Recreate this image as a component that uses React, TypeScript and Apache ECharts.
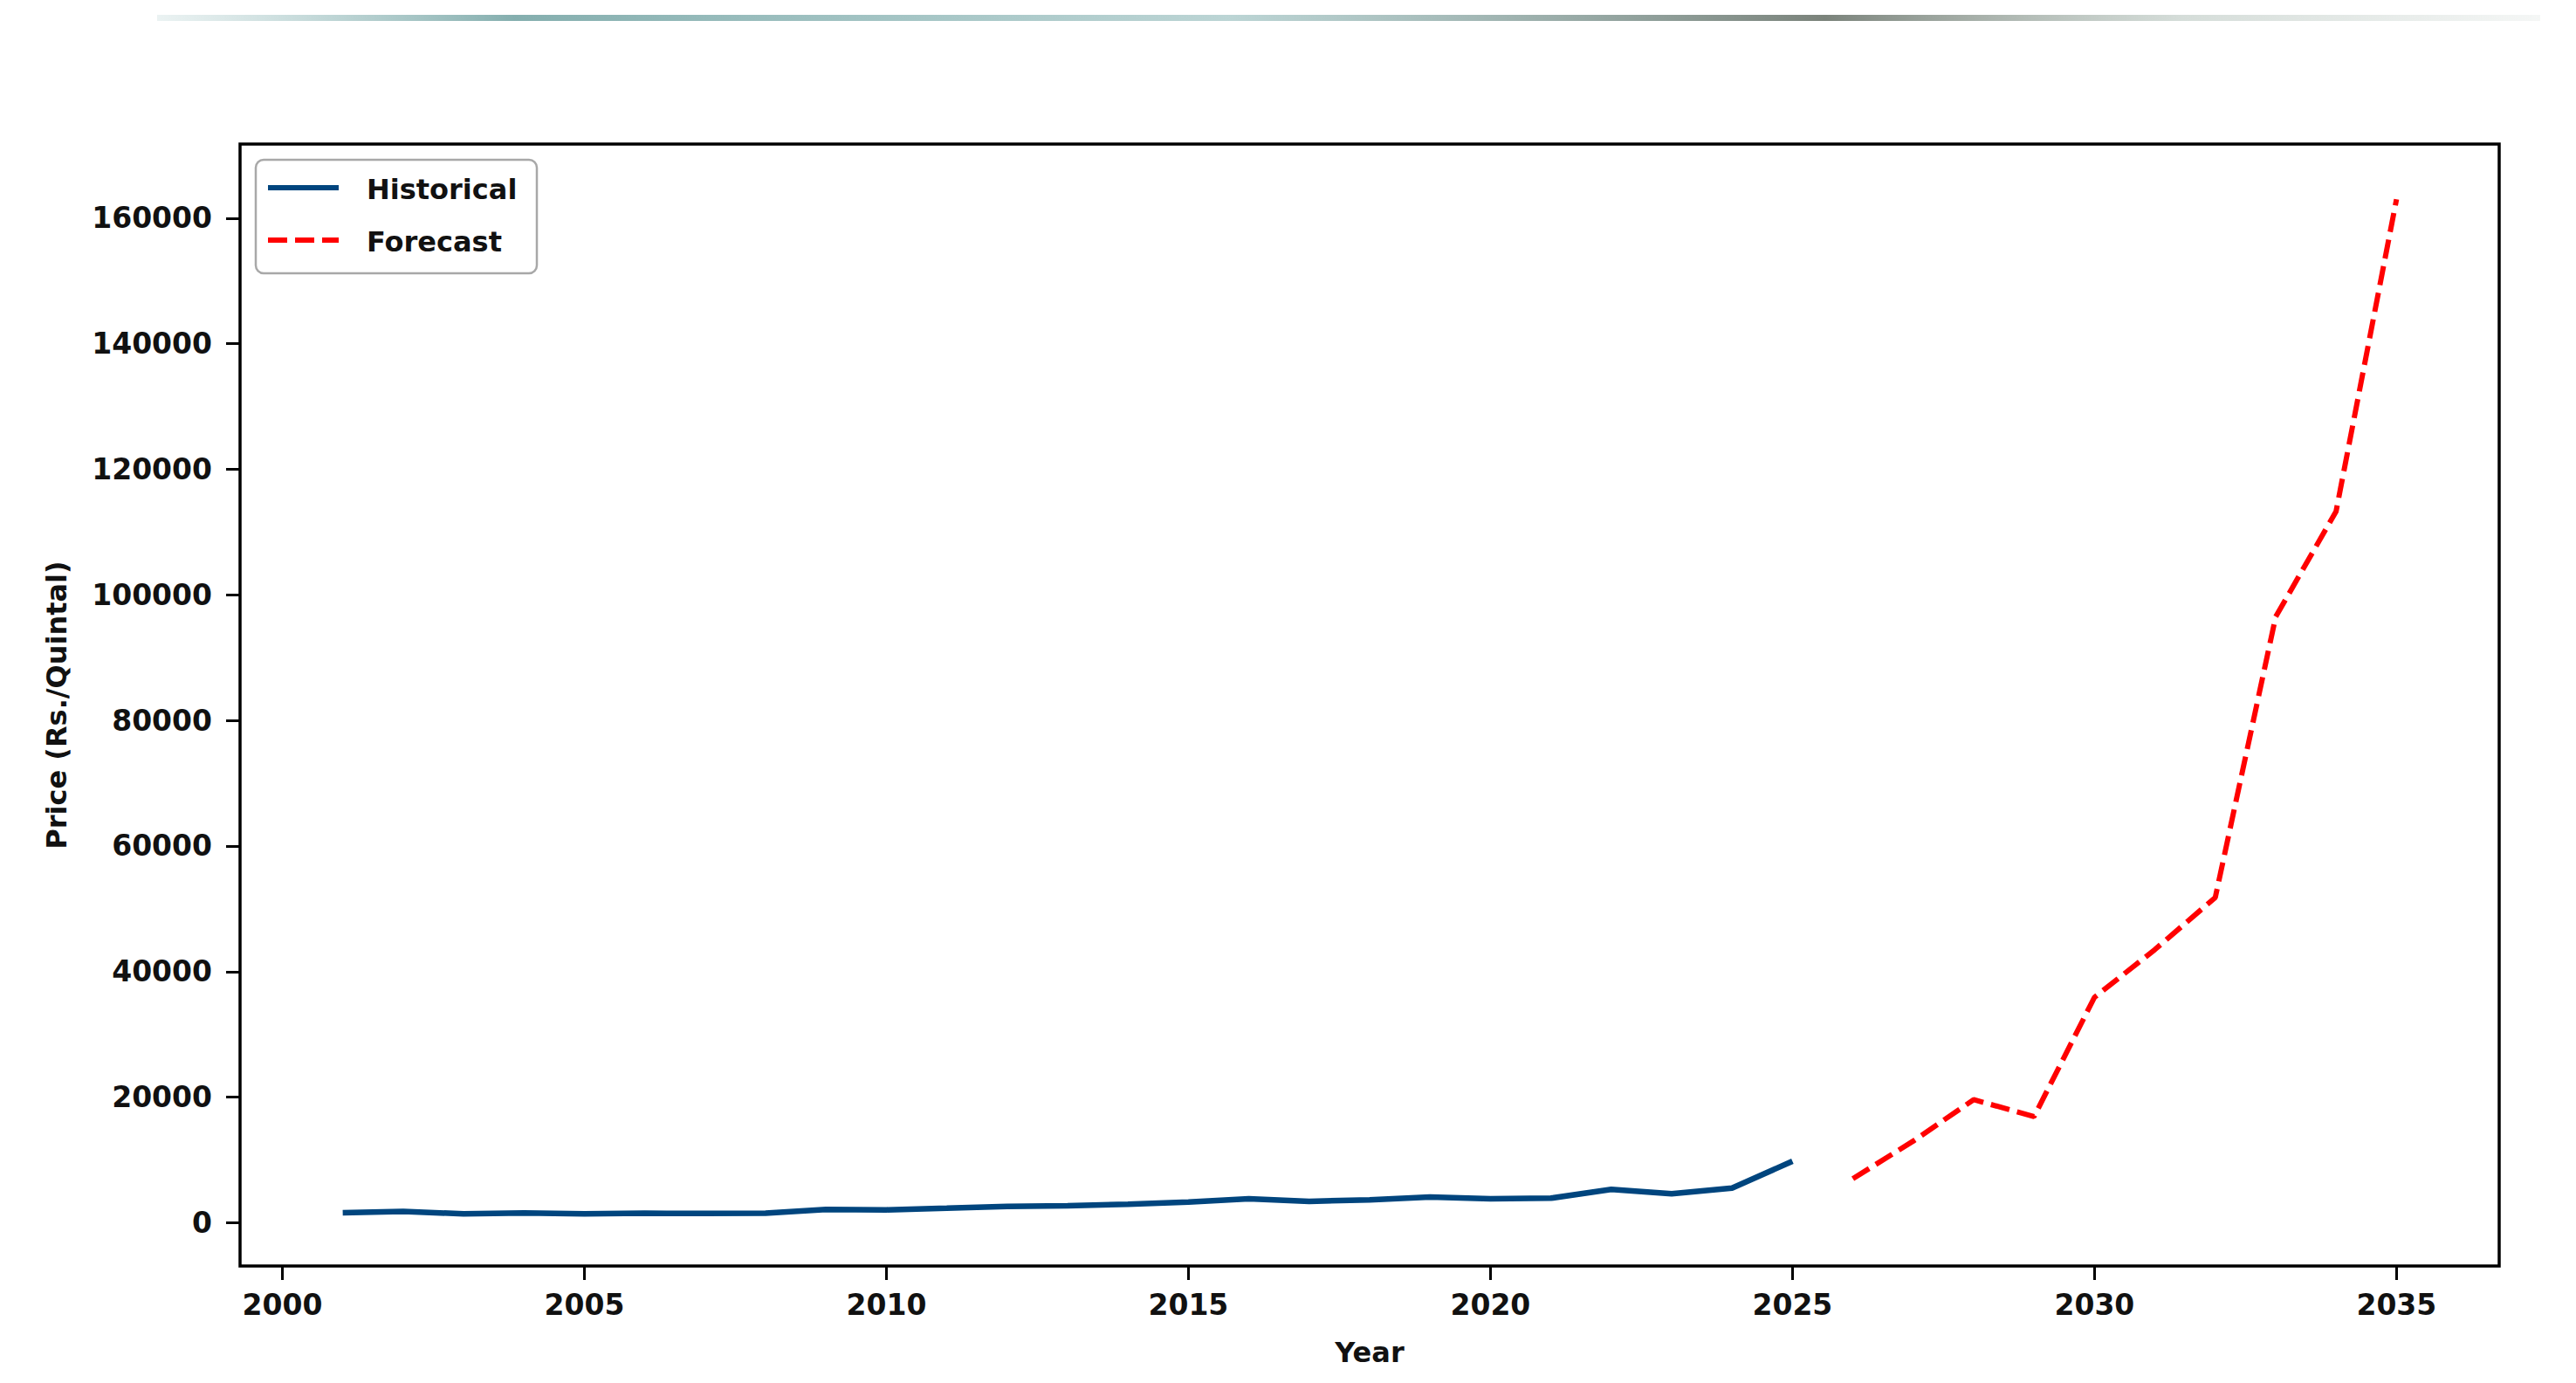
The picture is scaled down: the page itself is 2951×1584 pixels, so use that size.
import React, { useEffect, useRef } from "react";
import * as echarts from "echarts";

const histYears = [2001, 2002, 2003, 2004, 2005, 2006, 2007, 2008, 2009, 2010, 2011, 2012, 2013, 2014, 2015, 2016, 2017, 2018, 2019, 2020, 2021, 2022, 2023, 2024, 2025];
const histValues = [1600, 1800, 1400, 1550, 1400, 1500, 1480, 1500, 2100, 2050, 2300, 2600, 2700, 2950, 3300, 3800, 3400, 3650, 4100, 3800, 3900, 5300, 4600, 5500, 9800];
const fcYears = [2026, 2027, 2028, 2029, 2030, 2031, 2032, 2033, 2034, 2035];
const fcValues = [7000, 13000, 19600, 16900, 35900, 43500, 51800, 96500, 113300, 163000];
const xTicks = [2000, 2005, 2010, 2015, 2020, 2025, 2030, 2035];
const yTicks = [0, 20000, 40000, 60000, 80000, 100000, 120000, 140000, 160000];
const legendNames = ["Historical", "Forecast"];

const FONT = "DejaVu Sans";
const HIST_COLOR = "#00457e";
const FC_COLOR = "#ff0000";
const FC_DASH = [22, 9];

export default function App() {
  const ref = useRef<HTMLDivElement>(null);
  useEffect(() => {
    if (!ref.current) return;
    const chart = echarts.init(ref.current, null, { renderer: "svg" });
    const labelStyle = { fontFamily: FONT, fontWeight: "bold", fontSize: 33, color: "#111" };
    const legendText = (text: string, y: number) => ({
      type: "text",
      x: 420,
      y,
      style: {
        text,
        fontFamily: FONT,
        fontWeight: "bold",
        fontSize: 32,
        fill: "#111",
        verticalAlign: "middle",
        align: "left",
      },
      z: 101,
    });
    chart.setOption({
      animation: false,
      backgroundColor: "#ffffff",
      grid: {
        left: 275,
        top: 165,
        right: 88,
        bottom: 134,
        show: true,
        borderColor: "#000",
        borderWidth: 3.5,
        backgroundColor: "transparent",
      },
      xAxis: {
        type: "value",
        min: 1999.3,
        max: 2036.7,
        name: "Year",
        nameLocation: "middle",
        nameGap: 83,
        nameTextStyle: { ...labelStyle, fontSize: 32 },
        axisLine: { show: false, onZero: false },
        axisTick: { show: true, length: 16, lineStyle: { color: "#000", width: 3 }, customValues: xTicks },
        axisLabel: { ...labelStyle, margin: 28, customValues: xTicks, formatter: (v: number) => String(Math.round(v)) },
        splitLine: { show: false },
      },
      yAxis: {
        type: "value",
        min: -6900,
        max: 171800,
        name: "Price (Rs./Quintal)",
        nameLocation: "middle",
        nameGap: 194,
        nameTextStyle: { ...labelStyle, fontSize: 32 },
        axisLine: { show: false, onZero: false },
        axisTick: { show: true, length: 16, lineStyle: { color: "#000", width: 3 }, customValues: yTicks },
        axisLabel: { ...labelStyle, margin: 32, customValues: yTicks, formatter: (v: number) => String(Math.round(v)) },
        splitLine: { show: false },
      },
      graphic: [
        {
          type: "rect",
          shape: { x: 180, y: 17, width: 2730, height: 7 },
          style: {
            fill: new echarts.graphic.LinearGradient(0, 0, 1, 0, [
              { offset: 0, color: "rgba(120,170,170,0.15)" },
              { offset: 0.15, color: "rgba(80,140,140,0.7)" },
              { offset: 0.45, color: "rgba(120,170,170,0.5)" },
              { offset: 0.7, color: "rgba(90,100,90,0.8)" },
              { offset: 0.85, color: "rgba(150,170,160,0.4)" },
              { offset: 1, color: "rgba(150,170,160,0.1)" },
            ]),
          },
          silent: true,
        },
        {
          type: "rect",
          shape: { x: 293, y: 183, width: 322, height: 130, r: 9 },
          style: { fill: "#ffffff", stroke: "#a8a8a8", lineWidth: 2.5 },
          z: 100,
        },
        {
          type: "line",
          shape: { x1: 307, y1: 215, x2: 388, y2: 215 },
          style: { stroke: HIST_COLOR, lineWidth: 6 },
          z: 101,
        },
        {
          type: "line",
          shape: { x1: 307, y1: 275, x2: 388, y2: 275 },
          style: { stroke: FC_COLOR, lineWidth: 6, lineDash: FC_DASH },
          z: 101,
        },
        legendText(legendNames[0], 217),
        legendText(legendNames[1], 277),
      ],
      series: [
        {
          name: legendNames[0],
          type: "line",
          data: histYears.map((y, i) => [y, histValues[i]]),
          symbol: "none",
          showSymbol: false,
          lineStyle: { color: HIST_COLOR, width: 6.5 },
          itemStyle: { color: HIST_COLOR },
        },
        {
          name: legendNames[1],
          type: "line",
          data: fcYears.map((y, i) => [y, fcValues[i]]),
          symbol: "none",
          showSymbol: false,
          lineStyle: { color: FC_COLOR, width: 6, type: FC_DASH },
          itemStyle: { color: FC_COLOR },
        },
      ],
    });
    return () => chart.dispose();
  }, []);
  return (
    <div
      ref={ref}
      style={{ position: "fixed", left: 0, top: 0, width: 2951, height: 1584, background: "#fff" }}
    />
  );
}
